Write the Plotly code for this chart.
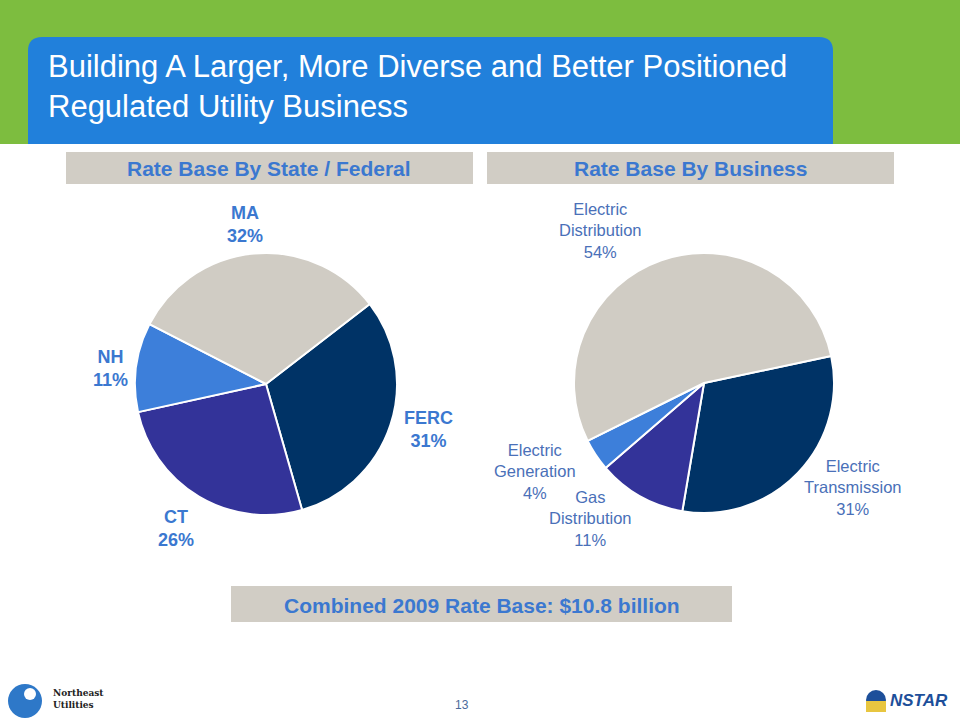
import plotly.graph_objects as go

W, H = 960, 720

# ---- data ----
state_labels = ["FERC", "CT", "NH", "MA"]
state_values = [31, 26, 11, 32]
business_labels = ["Electric Transmission", "Gas Distribution", "Electric Generation", "Electric Distribution"]
business_label_text = ["Electric<br>Transmission", "Gas<br>Distribution", "Electric<br>Generation", "Electric<br>Distribution"]
business_values = [31, 11, 4, 54]

title_text = "Building A Larger, More Diverse and Better Positioned<br>Regulated Utility Business"
left_header = "Rate Base By State / Federal"
right_header = "Rate Base By Business"
footer_text = "Combined 2009 Rate Base: $10.8 billion"
page_number = "13"

# ---- styles ----
GREEN = "#7DBD3F"
TITLE_BLUE = "#2180DB"
BOX_GREY = "#D1CDC5"
TEXT_BLUE = "#3B78D0"
LABEL_BLUE = "#4A70B8"
C_GREY = "#D0CCC4"
C_NAVY = "#003366"
C_INDIGO = "#333399"
C_BLUE = "#3D7FDA"
FONT = "Liberation Sans, Arial, sans-serif"

state_colors = [C_NAVY, C_INDIGO, C_BLUE, C_GREY]
business_colors = [C_NAVY, C_INDIGO, C_BLUE, C_GREY]


def px(x):
    return x / W


def py(y):
    return 1 - y / H


def dom(cx, cy, r):
    return dict(x=[px(cx - r), px(cx + r)], y=[py(cy + r), py(cy - r)])


fig = go.Figure()

fig.add_trace(go.Pie(
    labels=state_labels, values=state_values, sort=False, direction="clockwise",
    rotation=52.4, textinfo="none", hoverinfo="label+percent",
    marker=dict(colors=state_colors, line=dict(color="white", width=2)),
    domain=dom(266, 384, 131), showlegend=False,
))
fig.add_trace(go.Pie(
    labels=business_labels, values=business_values, sort=False, direction="clockwise",
    rotation=78, textinfo="none", hoverinfo="label+percent",
    marker=dict(colors=business_colors, line=dict(color="white", width=2)),
    domain=dom(704, 383, 130), showlegend=False,
))

shapes = []
# green band
shapes.append(dict(type="rect", xref="paper", yref="paper", x0=0, x1=1, y0=py(144), y1=1,
                   fillcolor=GREEN, line=dict(width=0), layer="below"))
# title box with rounded top corners
x0, x1, y0, y1, rr = 28, 833, 37, 144, 14
path = (f"M {px(x0)} {py(y1)} L {px(x0)} {py(y0+rr)} Q {px(x0)} {py(y0)} {px(x0+rr)} {py(y0)} "
        f"L {px(x1-rr)} {py(y0)} Q {px(x1)} {py(y0)} {px(x1)} {py(y0+rr)} L {px(x1)} {py(y1)} Z")
shapes.append(dict(type="path", xref="paper", yref="paper", path=path,
                   fillcolor=TITLE_BLUE, line=dict(width=0), layer="below"))
# header boxes
for (a, b) in [(66, 473), (487, 894)]:
    shapes.append(dict(type="rect", xref="paper", yref="paper", x0=px(a), x1=px(b),
                       y0=py(184), y1=py(152), fillcolor=BOX_GREY, line=dict(width=0), layer="below"))
# footer box
shapes.append(dict(type="rect", xref="paper", yref="paper", x0=px(231), x1=px(732),
                   y0=py(622), y1=py(586), fillcolor=BOX_GREY, line=dict(width=0), layer="below"))
# Northeast Utilities logo (approximation)
shapes.append(dict(type="circle", xref="paper", yref="paper", x0=px(8), x1=px(42),
                   y0=py(718), y1=py(684), fillcolor="#2E78C8", line=dict(width=0)))
shapes.append(dict(type="circle", xref="paper", yref="paper", x0=px(24), x1=px(36),
                   y0=py(700), y1=py(688), fillcolor="white", line=dict(width=0)))
# NSTAR icon (approximation)
shapes.append(dict(type="circle", xref="paper", yref="paper", x0=px(866), x1=px(886),
                   y0=py(710), y1=py(690), fillcolor="#1D4F9A", line=dict(width=0)))
shapes.append(dict(type="rect", xref="paper", yref="paper", x0=px(866), x1=px(886),
                   y0=py(712), y1=py(701), fillcolor="#E8C640", line=dict(width=0)))

annotations = []


def ann(text, x, y, size, color, xanchor="center", yanchor="middle", bold=False, family=FONT, align="center", **kw):
    annotations.append(dict(text=(f"<b>{text}</b>" if bold else text), x=px(x), y=py(y),
                            xref="paper", yref="paper", showarrow=False,
                            xanchor=xanchor, yanchor=yanchor, align=align,
                            font=dict(size=size, color=color, family=family), **kw))


ann(title_text, 46, 86, 31, "white", xanchor="left", align="left")
ann(left_header, 269, 168, 21, TEXT_BLUE, bold=True)
ann(right_header, 690, 168, 21, TEXT_BLUE, bold=True)
ann(footer_text, 482, 605, 21, TEXT_BLUE, bold=True)

# left pie labels
state_pos = {"MA": (245, 224), "NH": (110, 369), "FERC": (428, 429), "CT": (176, 528)}
for lab, v in zip(state_labels, state_values):
    x, y = state_pos[lab]
    ann(f"{lab}<br>{v}%", x, y, 18, TEXT_BLUE, bold=True)

# right pie labels
biz_pos = [(853, 487), (590, 518), (535, 471), (600, 231)]
for t, v, (x, y) in zip(business_label_text, business_values, biz_pos):
    ann(f"{t}<br>{v}%", x, y, 16.5, LABEL_BLUE)

ann(page_number, 462, 705, 12, "#4A6A9A")
ann("<b>Northeast<br>Utilities</b>", 51, 699, 9, "#222222", xanchor="left", align="left",
    family="DejaVu Serif, serif")
ann("<i><b>NSTAR</b></i>", 888, 700, 17, "#1D4F9A", xanchor="left")

fig.update_layout(
    width=W, height=H, margin=dict(l=0, r=0, t=0, b=0),
    paper_bgcolor="white", plot_bgcolor="white",
    shapes=shapes, annotations=annotations,
)

fig.write_html("out.html", config={"displayModeBar": False},
               post_script="document.body.style.margin='0';document.body.style.padding='0';")
